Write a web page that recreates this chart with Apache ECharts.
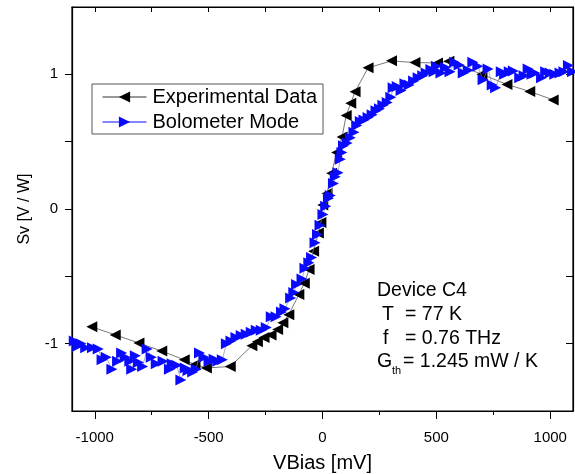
<!DOCTYPE html>
<html>
<head>
<meta charset="utf-8">
<script src="https://cdn.jsdelivr.net/npm/echarts@6/dist/echarts.min.js"></script>
<style>
html,body{margin:0;padding:0;background:#fff;}
#chart{width:575px;height:474px;}
</style>
</head>
<body>
<div id="chart"></div>
<script>
// ---- data ----
var seriesNames = ['Experimental Data', 'Bolometer Mode'];

// Experimental Data: [VBias mV, Sv]
var experimental = [
  [-1013,-0.875],[-910,-0.935],[-806,-0.995],[-706,-1.055],[-607,-1.12],[-560,-1.155],
  [-510,-1.18],[-405,-1.17],[-310,-1.015],[-286,-0.985],[-257,-0.955],[-226,-0.935],
  [-197,-0.895],[-174,-0.845],[-148,-0.785],[-104,-0.635],[-80,-0.552],[-59,-0.45],
  [-39,-0.313],[-18,-0.178],[-7,-0.1],[1,0.03],[20,0.116],[40,0.265],[62,0.42],
  [86,0.535],[104,0.695],[124,0.785],[143,0.87],[200,1.048],[303,1.10],[406,1.087],
  [505,1.085],[555,1.097],[700,1.0],[810,0.925],[910,0.873],[1013,0.81]
];

// Bolometer Mode: [VBias mV, Sv]
var bolometer = [
  [-1090,-0.98],[-1075,-1.02],[-1060,-1.0],[-1040,-1.03],[-1010,-1.03],[-985,-1.04],
  [-968,-1.12],[-950,-1.10],[-925,-1.19],[-900,-1.13],[-882,-1.07],[-866,-1.10],
  [-846,-1.13],[-838,-1.19],[-822,-1.09],[-808,-1.14],[-790,-1.17],[-770,-1.04],
  [-752,-1.10],[-730,-1.15],[-700,-1.13],[-672,-1.19],[-660,-1.15],[-640,-1.16],
  [-622,-1.27],[-603,-1.18],[-590,-1.20],[-570,-1.21],[-555,-1.19],[-540,-1.07],
  [-520,-1.10],[-498,-1.13],[-476,-1.115],[-460,-1.13],[-440,-1.12],[-422,-1.0],
  [-402,-0.98],[-380,-0.955],[-357,-0.94],[-335,-0.93],[-313,-0.915],[-291,-0.90],
  [-269,-0.90],[-247,-0.88],[-225,-0.80],[-204,-0.80],[-180,-0.765],[-165,-0.74],
  [-140,-0.66],[-126,-0.62],[-114,-0.56],[-90,-0.52],[-77,-0.44],[-60,-0.40],
  [-48,-0.36],[-33,-0.25],[-22,-0.19],[-11,-0.12],[2,-0.04],[14,0.02],[26,0.08],
  [34,0.10],[48,0.19],[56,0.24],[68,0.27],[78,0.37],[85,0.42],[92,0.47],[108,0.49],
  [122,0.53],[138,0.57],[150,0.62],[166,0.65],[182,0.66],[200,0.68],[218,0.70],
  [235,0.73],[250,0.745],[265,0.77],[284,0.79],[300,0.83],[310,0.90],[328,0.91],
  [345,0.88],[362,0.93],[380,0.92],[400,0.95],[420,0.975],[440,0.99],[455,1.01],
  [476,1.035],[490,1.02],[500,1.06],[520,1.01],[540,1.05],[560,1.02],[580,1.09],
  [600,1.07],[618,1.01],[640,1.03],[660,1.09],[682,1.06],[705,0.96],[727,1.04],
  [745,0.92],[760,0.90],[785,1.02],[800,1.0],[820,1.02],[838,1.025],[866,0.975],
  [885,0.99],[903,1.04],[920,1.0],[933,1.01],[962,0.975],[980,1.02],[1000,1.01],
  [1020,1.0],[1043,1.01],[1060,1.02],[1080,1.065],[1098,1.02]
];

var xMajorTicks = [-1000,-500,0,500,1000];
var xMinorTicks = [-750,-250,250,750];
var xAllTicks = [-1000,-750,-500,-250,0,250,500,750,1000];
var yLabelTicks = [-1,0,1];
var yAllTicks = [-1,-0.5,0,0.5,1];

var annotation = ['Device C4', 'T', '= 77 K', 'f', '= 0.76 THz', 'G', 'th', '= 1.245 mW / K'];

// ---- chart ----
var FONT = 'Liberation Sans, Arial, sans-serif';
var chart = echarts.init(document.getElementById('chart'), null, {renderer:'canvas'});
var leftTri = 'path://M0,5L10,0L10,10Z';
var rightTri = 'path://M10,5L0,0L0,10Z';
var blue = '#0a0aff';
var plain = function (v) { return String(v); };

var option = {
  backgroundColor:'#fff',
  animation:false,
  grid:{left:72, right:2, top:7, bottom:63, show:true, borderColor:'#000', borderWidth:1.2,
        containLabel:false, outerBoundsMode:'none'},
  legend:{
    orient:'vertical', left:92, top:84,
    data:[
      {name:seriesNames[0], lineStyle:{color:'#333', width:1}},
      {name:seriesNames[1], lineStyle:{color:blue, width:1}}
    ],
    itemWidth:44, itemHeight:14, itemGap:5,
    padding:[3,6,2,10],
    borderColor:'#555', borderWidth:1,
    textStyle:{fontFamily:FONT, fontSize:20, color:'#000', padding:[0,0,0,1]}
  },
  xAxis:[
    {type:'value', position:'bottom', min:-1100, max:1100,
     name:'VBias [mV]', nameLocation:'middle', nameGap:42,
     nameTextStyle:{fontFamily:FONT, fontSize:20, color:'#000'},
     axisLine:{show:true, onZero:false, lineStyle:{color:'#000', width:1.2}},
     axisTick:{show:true, inside:false, length:8, customValues:xMajorTicks, lineStyle:{color:'#000', width:1}},
     axisLabel:{show:true, customValues:xMajorTicks, formatter:plain, margin:19, fontFamily:FONT, fontSize:15, color:'#000'},
     splitLine:{show:false}},
    {type:'value', position:'bottom', min:-1100, max:1100,
     axisLine:{show:false, onZero:false},
     axisTick:{show:true, inside:false, length:4, customValues:xMinorTicks, lineStyle:{color:'#000', width:1}},
     axisLabel:{show:false, customValues:xMinorTicks},
     splitLine:{show:false}},
    {type:'value', position:'top', min:-1100, max:1100,
     axisLine:{show:true, onZero:false, lineStyle:{color:'#000', width:1.2}},
     axisTick:{show:true, inside:true, length:5, customValues:xAllTicks, lineStyle:{color:'#000', width:1}},
     axisLabel:{show:false, customValues:xAllTicks},
     splitLine:{show:false}}
  ],
  yAxis:[
    {type:'value', position:'left', min:-1.5, max:1.5,
     name:'Sv [V / W]', nameLocation:'middle', nameGap:39,
     nameTextStyle:{fontFamily:FONT, fontSize:16, color:'#000'},
     axisLine:{show:true, onZero:false, lineStyle:{color:'#000', width:1.2}},
     axisTick:{show:true, inside:false, length:7, customValues:yAllTicks, lineStyle:{color:'#000', width:1}},
     axisLabel:{show:true, customValues:yLabelTicks, formatter:plain, margin:14, fontFamily:FONT, fontSize:15, color:'#000'},
     splitLine:{show:false}},
    {type:'value', position:'right', min:-1.5, max:1.5,
     axisLine:{show:true, onZero:false, lineStyle:{color:'#000', width:1.2}},
     axisTick:{show:true, inside:true, length:7, customValues:yAllTicks, lineStyle:{color:'#000', width:1}},
     axisLabel:{show:false, customValues:yAllTicks},
     splitLine:{show:false}}
  ],
  series:[
    {name:seriesNames[0], type:'line', xAxisIndex:0, yAxisIndex:0, data:experimental,
     symbol:leftTri, symbolSize:[11,11], showAllSymbol:true, z:2,
     itemStyle:{color:'#000'}, lineStyle:{color:'#555', width:0.8}},
    {name:seriesNames[1], type:'line', xAxisIndex:0, yAxisIndex:0, data:bolometer,
     symbol:rightTri, symbolSize:[11,11], showAllSymbol:true, z:3,
     itemStyle:{color:blue}, lineStyle:{color:'#8a8aa8', width:0.7}}
  ],
  graphic:[
    {type:'text', x:377, y:291, style:{text:annotation[0], font:'19.5px '+FONT, fill:'#000', verticalAlign:'middle'}},
    {type:'text', x:382, y:315, style:{text:annotation[1], font:'19.5px '+FONT, fill:'#000', verticalAlign:'middle'}},
    {type:'text', x:405, y:315, style:{text:annotation[2], font:'19.5px '+FONT, fill:'#000', verticalAlign:'middle'}},
    {type:'text', x:383, y:339, style:{text:annotation[3], font:'19.5px '+FONT, fill:'#000', verticalAlign:'middle'}},
    {type:'text', x:405, y:339, style:{text:annotation[4], font:'19.5px '+FONT, fill:'#000', verticalAlign:'middle'}},
    {type:'text', x:377, y:362, style:{text:annotation[5], font:'19.5px '+FONT, fill:'#000', verticalAlign:'middle'}},
    {type:'text', x:392, y:371, style:{text:annotation[6], font:'11px '+FONT, fill:'#000', verticalAlign:'middle'}},
    {type:'text', x:403, y:362, style:{text:annotation[7], font:'19.5px '+FONT, fill:'#000', verticalAlign:'middle'}}
  ]
};
chart.setOption(option);
</script>
</body>
</html>
